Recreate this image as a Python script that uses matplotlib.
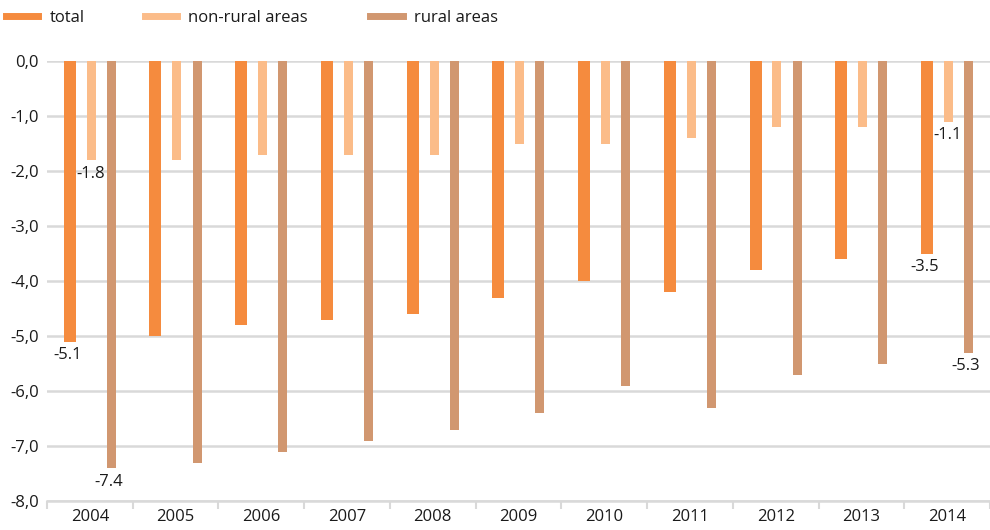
import matplotlib
matplotlib.use("Agg")
import matplotlib.pyplot as plt
import numpy as np
from matplotlib.lines import Line2D

years = ["2004", "2005", "2006", "2007", "2008", "2009", "2010", "2011", "2012", "2013", "2014"]
total = [-5.1, -5.0, -4.8, -4.7, -4.6, -4.3, -4.0, -4.2, -3.8, -3.6, -3.5]
non_rural = [-1.8, -1.8, -1.7, -1.7, -1.7, -1.5, -1.5, -1.4, -1.2, -1.2, -1.1]
rural = [-7.4, -7.3, -7.1, -6.9, -6.7, -6.4, -5.9, -6.3, -5.7, -5.5, -5.3]
series_names = ["total", "non-rural areas", "rural areas"]
yticks = [0, -1, -2, -3, -4, -5, -6, -7, -8]

c_total = "#F58B3E"
c_non = "#FBBC89"
c_rural = "#D19770"
txt = "#1a1a1a"
fs = 12

plt.rcParams['font.family'] = ['Open Sans', 'DejaVu Sans']

fig = plt.figure(figsize=(9.9, 5.3), dpi=100)
ax = fig.add_axes([0.0475, 0.0547, 0.9525, 0.8302])

x = np.arange(len(years))
ax.bar(x - 0.235, total, width=0.14, color=c_total, zorder=3)
ax.bar(x + 0.015, non_rural, width=0.105, color=c_non, zorder=3)
ax.bar(x + 0.25, rural, width=0.105, color=c_rural, zorder=3)

# data labels for first and last year
for i in [0, len(years) - 1]:
    ax.text(x[i] - 0.26, total[i] - 0.1, f"{total[i]:.1f}", ha="center", va="top", fontsize=fs, color=txt)
    ax.text(x[i] + 0.01, non_rural[i] - 0.1, f"{non_rural[i]:.1f}", ha="center", va="top", fontsize=fs, color=txt)
    ax.text(x[i] + 0.22, rural[i] - 0.1, f"{rural[i]:.1f}", ha="center", va="top", fontsize=fs, color=txt)

ax.set_xlim(-0.5, len(years) - 0.5)
ax.set_ylim(-8, 0)
ax.set_yticks(yticks)
ax.set_yticklabels([f"{v:.1f}".replace(".", ",") for v in yticks], fontsize=fs, color=txt)
ax.yaxis.grid(True, color="#D9D9D9", linewidth=1.8, zorder=0)
ax.tick_params(axis="y", length=0, pad=6)

ax.set_xticks(x)
ax.set_xticklabels(years, fontsize=fs, color=txt)
ax.set_xticks(np.arange(len(years) + 1) - 0.5, minor=True)
ax.tick_params(axis="x", which="major", length=0, pad=6)
ax.tick_params(axis="x", which="minor", length=6, width=1.5, color="#D9D9D9")

for s in ["top", "right", "left"]:
    ax.spines[s].set_visible(False)
ax.spines["bottom"].set_color("#D9D9D9")
ax.spines["bottom"].set_linewidth(1.8)

handles = [Line2D([0], [0], color=c, linewidth=5) for c in [c_total, c_non, c_rural]]
leg_pos = [0.006, 0.146, 0.374]
for h, name, px in zip(handles, series_names, leg_pos):
    fig.legend([h], [name], loc="center left", bbox_to_anchor=(px, 0.966), frameon=False,
               fontsize=fs, handlelength=1.95, handletextpad=0.65, borderaxespad=0, borderpad=0,
               labelcolor=txt)

fig.savefig("out.png", dpi=100)
